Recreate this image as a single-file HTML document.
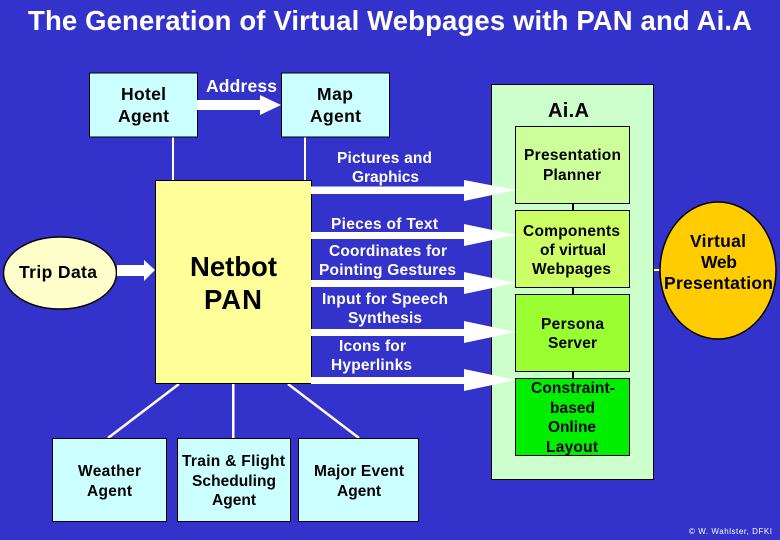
<!DOCTYPE html>
<html>
<head>
<meta charset="utf-8">
<style>
html,body{margin:0;padding:0;width:780px;height:540px;overflow:hidden;background:#3333cc}
svg{display:block}
text{font-family:"Liberation Sans",sans-serif;text-anchor:middle;font-weight:bold}
.b{font-size:17.5px;fill:#000}
.w{font-size:15.5px;fill:#fff}
.g{font-size:15.5px;fill:#000}
.ag{fill:#ccffff;stroke:#000;stroke-width:1}
</style>
</head>
<body>
<svg width="780" height="540" viewBox="0 0 780 540" xmlns="http://www.w3.org/2000/svg">
<rect width="780" height="540" fill="#3333cc"/>
<text x="390" y="30" font-size="27.500" fill="#fff" textLength="724">The Generation of Virtual Webpages with PAN and Ai.A</text>

<rect x="172" y="137" width="2" height="44" fill="#fff"/>
<rect x="304" y="137" width="2" height="44" fill="#fff"/>
<line x1="179" y1="384" x2="108" y2="438" stroke="#fff" stroke-width="2.5"/>
<rect x="232" y="383" width="2.5" height="56" fill="#fff"/>
<line x1="288" y1="384" x2="359" y2="438" stroke="#fff" stroke-width="2.5"/>

<rect x="89.500" y="73" width="108" height="64" class="ag"/>
<rect x="281.500" y="73" width="108" height="64" class="ag"/>
<text class="b" x="143.500" y="100" textLength="45">Hotel</text>
<text class="b" x="143.500" y="122" textLength="51">Agent</text>
<text class="b" x="335" y="100" textLength="36">Map</text>
<text class="b" x="335.500" y="122" textLength="51">Agent</text>
<text class="w" x="241.500" y="92" style="font-size:17.500px" textLength="71">Address</text>
<polygon points="197,100 260,100 260,95 281,105 260,115 260,110 197,110" fill="#fff"/>

<rect x="491.500" y="84.500" width="162" height="395" fill="#ccffcc" stroke="#000"/>
<text x="568.500" y="117" font-size="20" fill="#000" textLength="41">Ai.A</text>

<rect x="572" y="203" width="2" height="7" fill="#000"/>
<rect x="572" y="287" width="2" height="7" fill="#000"/>
<rect x="572" y="371" width="2" height="7" fill="#000"/>

<rect x="515.500" y="126.500" width="114" height="77" fill="#ccff99" stroke="#000"/>
<rect x="515.500" y="210.500" width="114" height="77" fill="#ccff66" stroke="#000"/>
<rect x="515.500" y="294.500" width="114" height="77" fill="#99ff33" stroke="#000"/>
<rect x="515.500" y="378.500" width="114" height="77" fill="#00ee00" stroke="#000"/>
<text class="g" x="572.500" y="160" textLength="97">Presentation</text>
<text class="g" x="572" y="180" textLength="58">Planner</text>
<text class="g" x="571.500" y="236" textLength="97">Components</text>
<text class="g" x="573" y="255" textLength="66">of virtual</text>
<text class="g" x="571.500" y="274" textLength="79">Webpages</text>
<text class="g" x="572.500" y="329" textLength="63">Persona</text>
<text class="g" x="572.500" y="348" textLength="49">Server</text>
<text class="g" x="573" y="393" textLength="84">Constraint-</text>
<text class="g" x="572.500" y="413" textLength="45">based</text>
<text class="g" x="572" y="432" textLength="48">Online</text>
<text class="g" x="572" y="452" textLength="52">Layout</text>

<rect x="155.500" y="180.500" width="156" height="203" fill="#ffff99" stroke="#000"/>
<text x="233.500" y="276" font-size="27.500" fill="#000" textLength="87">Netbot</text>
<text x="233" y="309" font-size="27.500" fill="#000" textLength="58">PAN</text>

<polygon points="311,186.500 464,186.500 464,180 516,190 464,201 464,194 311,194" fill="#fff"/>
<polygon points="311,232 464,232 464,224 516,235 464,246 464,239 311,239" fill="#fff"/>
<polygon points="311,280 464,280 464,272 516,283 464,294 464,287 311,287" fill="#fff"/>
<polygon points="311,329 464,329 464,321 516,332 464,343 464,336 311,336" fill="#fff"/>
<polygon points="311,377 464,377 464,369 516,380 464,391 464,384 311,384" fill="#fff"/>

<text class="w" x="384.500" y="163" textLength="95">Pictures and</text>
<text class="w" x="385.500" y="182" textLength="67">Graphics</text>
<text class="w" x="384.500" y="229" textLength="107">Pieces of Text</text>
<text class="w" x="388" y="256" textLength="118">Coordinates for</text>
<text class="w" x="387.500" y="275" textLength="137">Pointing Gestures</text>
<text class="w" x="385" y="304" textLength="126">Input for Speech</text>
<text class="w" x="385" y="323" textLength="74">Synthesis</text>
<text class="w" x="372.500" y="351" textLength="67">Icons for</text>
<text class="w" x="371.500" y="370" textLength="81">Hyperlinks</text>

<ellipse cx="60" cy="273" rx="56.500" ry="36" fill="#ffffcc" stroke="#000" stroke-width="1.500"/>
<text x="58" y="278" font-size="17.500" fill="#000" textLength="78">Trip Data</text>
<polygon points="117,265 144,265 144,260 155,270 144,281 144,276 117,276" fill="#fff"/>

<rect x="654" y="269" width="6" height="2" fill="#fff"/>
<ellipse cx="718" cy="270.500" rx="58" ry="68.500" fill="#ffcc00" stroke="#000" stroke-width="1.500"/>
<text class="b" x="718" y="247" textLength="56">Virtual</text>
<text class="b" x="719" y="268" textLength="36">Web</text>
<text class="b" x="718.500" y="289" textLength="109">Presentation</text>

<rect x="52.500" y="438.500" width="114" height="83" class="ag"/>
<rect x="177.500" y="438.500" width="113" height="83" class="ag"/>
<rect x="298.500" y="438.500" width="120" height="83" class="ag"/>
<text class="g" x="109.500" y="476" textLength="63">Weather</text>
<text class="g" x="109.500" y="496" textLength="45">Agent</text>
<text class="g" x="233.500" y="466" textLength="103">Train &amp; Flight</text>
<text class="g" x="234" y="486" textLength="84">Scheduling</text>
<text class="g" x="234" y="505" textLength="44">Agent</text>
<text class="g" x="359" y="476" textLength="90">Major Event</text>
<text class="g" x="359" y="496" textLength="44">Agent</text>

<text x="730.500" y="534" font-size="8" fill="#fff" textLength="83" style="font-weight:normal">© W. Wahlster, DFKI</text>
</svg>
</body>
</html>
